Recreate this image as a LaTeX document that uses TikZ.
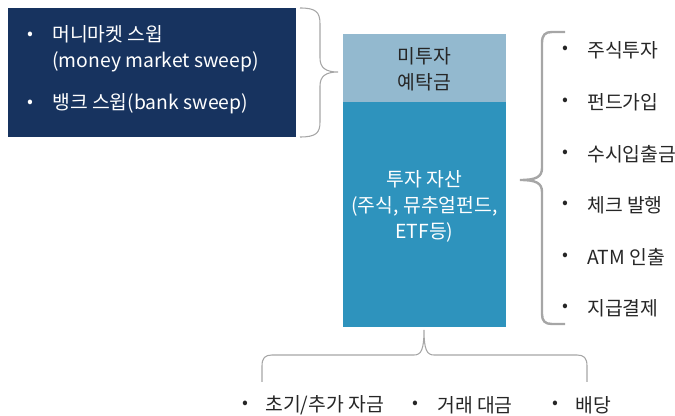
\documentclass[tikz,border=0pt]{standalone}
\usepackage{fontspec}
\setmainfont{Noto Sans CJK KR}
\definecolor{navy}{HTML}{17335F}
\definecolor{lightbox}{HTML}{93B9CF}
\definecolor{bluebox}{HTML}{2E93BD}
\definecolor{bracegray}{HTML}{A6A6A6}
\definecolor{txt}{HTML}{262626}
\begin{document}
\begin{tikzpicture}[x=0.75pt,y=-0.75pt,
  lbl/.style={font=\fontsize{14.5}{19.5}\selectfont, inner sep=0pt, text=txt},
  wlbl/.style={lbl, text=white},
  bul/.style={font=\fontsize{13}{15}\selectfont, inner sep=0pt},
  box/.style={anchor=north west, inner sep=0pt, draw=none},
  thinbrace/.style={draw=bracegray, line width=0.8pt},
  thickbrace/.style={draw=bracegray, line width=1.8pt}
]
\useasboundingbox (0,0) rectangle (675,416);

% boxes
\node[box, fill=navy, minimum width=216pt, minimum height=96.75pt] (navybox) at (8,8) {};
\node[box, fill=lightbox, minimum width=122.25pt, minimum height=51pt] (undep) at (343,34) {};
\node[box, fill=bluebox, minimum width=122.25pt, minimum height=168.75pt] (invest) at (343,102) {};

% left box text
\node[bul, text=white] (lb1) at (30,36) {•};
\node[wlbl, anchor=west, align=left] (lt1) at (52,49) {머니마켓 스윕\\(money market sweep)};
\node[bul, text=white] (lb2) at (30,104) {•};
\node[wlbl, anchor=west] (lt2) at (52,104) {뱅크 스윕(bank sweep)};

% box texts
\node[lbl, align=center] (undeptxt) at (424.5,69.5) {미투자\\예탁금};
\node[wlbl, align=center] (investtxt) at (424.5,206) {투자 자산\\(주식, 뮤추얼펀드,\\ETF등)};

% right list
\foreach \y/\t [count=\i] in {50/주식투자, 102/펀드가입, 154/수시입출금, 205/체크 발행, 257/ATM 인출, 308/지급결제}{
  \node[bul, text=txt] (rb\i) at (565,\y) {•};
  \node[lbl, anchor=west] (rt\i) at (587,\y) {\t};
}

% bottom list
\node[bul, text=txt] (bb1) at (245,405) {•};
\node[lbl, anchor=west] (bt1) at (265,405) {초기/추가 자금};
\node[bul, text=txt] (bb2) at (415,405) {•};
\node[lbl, anchor=west] (bt2) at (437,405) {거래 대금};
\node[bul, text=txt] (bb3) at (555,405) {•};
\node[lbl, anchor=west] (bt3) at (575,405) {배당};

% left brace (tip pointing right)
\draw[thinbrace] (300,8) .. controls (316,8) and (320,12) .. (320,24)
  -- (320,58) .. controls (320,68) and (326,72) .. (338,72)
  .. controls (326,72) and (320,76) .. (320,86)
  -- (320,122) .. controls (320,133) and (316,137) .. (300,137);

% right brace (tip pointing left)
\draw[thickbrace] (565,32) -- (552,32) .. controls (545,32) and (542,35) .. (542,43)
  -- (542,168) .. controls (542,177) and (536,180) .. (520,180)
  .. controls (536,180) and (542,183) .. (542,192)
  -- (542,314) .. controls (542,321) and (545,324) .. (552,324) -- (565,324);

% bottom brace (tip pointing up)
\draw[thinbrace] (262,382) -- (262,366) .. controls (262,358) and (265,355) .. (272,355)
  -- (414,355) .. controls (421,355) and (424,350) .. (424,330)
  .. controls (424,350) and (427,355) .. (434,355)
  -- (577,355) .. controls (584,355) and (587,358) .. (587,366) -- (587,382);
\end{tikzpicture}
\end{document}
